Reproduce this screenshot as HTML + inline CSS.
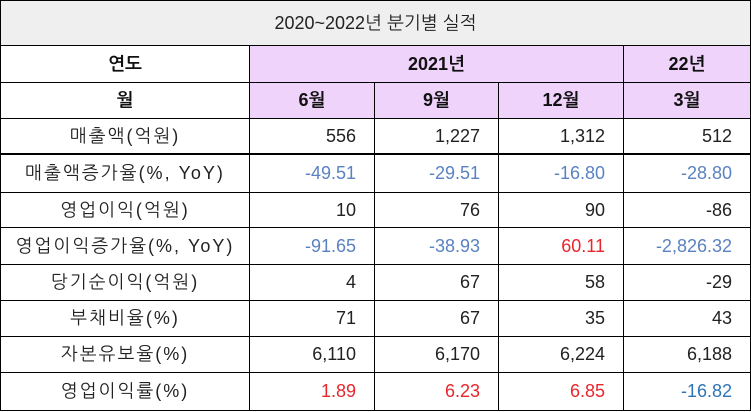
<!DOCTYPE html>
<html><head><meta charset="utf-8">
<style>
body{margin:0;width:751px;height:412px;background:#fff;overflow:hidden;font-family:"Liberation Sans","NanumGothic","Noto Sans CJK KR",sans-serif;}
#t{position:absolute;left:0;top:0;width:751px;height:412px;}
.c{position:absolute;box-sizing:border-box;border-right:1px solid #000;border-bottom:1px solid #000;display:flex;align-items:center;justify-content:center;font-size:18px;color:#222;}
.r{justify-content:flex-end;padding-right:18px;}
.b{font-weight:bold;color:#111;}
.p{background:#efd3fb;}
</style></head><body>
<div id="t"></div>
<script>
const rowLabels=["매출액(억원)","매출액증가율(%, YoY)","영업이익(억원)","영업이익증가율(%, YoY)","당기순이익(억원)","부채비율(%)","자본유보율(%)","영업이익률(%)"];
const months=["6월","9월","12월","3월"];
const values=[
["556","1,227","1,312","512"],
["-49.51","-29.51","-16.80","-28.80"],
["10","76","90","-86"],
["-91.65","-38.93","60.11","-2,826.32"],
["4","67","58","-29"],
["71","67","35","43"],
["6,110","6,170","6,224","6,188"],
["1.89","6.23","6.85","-16.82"]];
const colors=[
["k","k","k","k"],["b","b","b","b"],["k","k","k","k"],["b","b","r","b"],
["k","k","k","k"],["k","k","k","k"],["k","k","k","k"],["r","r","r","b2"]];
const cmap={k:"#222",b:"#5a82c2",r:"#e8262c",b2:"#2e74b5"};
const xs=[0,250,375,499,624,751];
const ys=[119,155,193,228,265,301,337,373,411];
const T=document.getElementById('t');
function cell(x1,y1,x2,y2,txt,cls){
  const d=document.createElement('div');
  d.className='c '+(cls||'');
  d.style.left=x1+'px';d.style.top=y1+'px';
  d.style.width=(x2-x1)+'px';d.style.height=(y2-y1)+'px';
  d.textContent=txt;T.appendChild(d);return d;
}
let e=cell(0,0,751,46,"2020~2022년  분기별  실적","");
e.style.background="#efefef";e.style.borderTop="1px solid #000";e.style.borderLeft="1px solid #000";


e=cell(0,46,250,83,"연도","b");e.style.borderLeft="1px solid #000";


e=cell(250,46,624,83,"2021년","b p");


e=cell(624,46,751,83,"22년","b p");


e=cell(0,83,250,119,"월","b");e.style.borderLeft="1px solid #000";


months.forEach((m,j)=>{
  const d=cell(xs[j+1],83,xs[j+2],119,m,"b p");
  
  
});
rowLabels.forEach((lab,i)=>{
  const y1=ys[i],y2=ys[i+1];
  const l=cell(0,y1,250,y2,lab,"");
  l.style.borderLeft="1px solid #000";l.style.letterSpacing="2px";
  if(i===0){l.style.borderBottom="2px solid #000";}
  
  
  values[i].forEach((v,j)=>{
    const d=cell(xs[j+1],y1,xs[j+2],y2,v,"r");
    d.style.color=cmap[colors[i][j]];
    if(i===0){d.style.borderBottom="2px solid #000";}
    
    
  });
});
</script>
</body></html>
